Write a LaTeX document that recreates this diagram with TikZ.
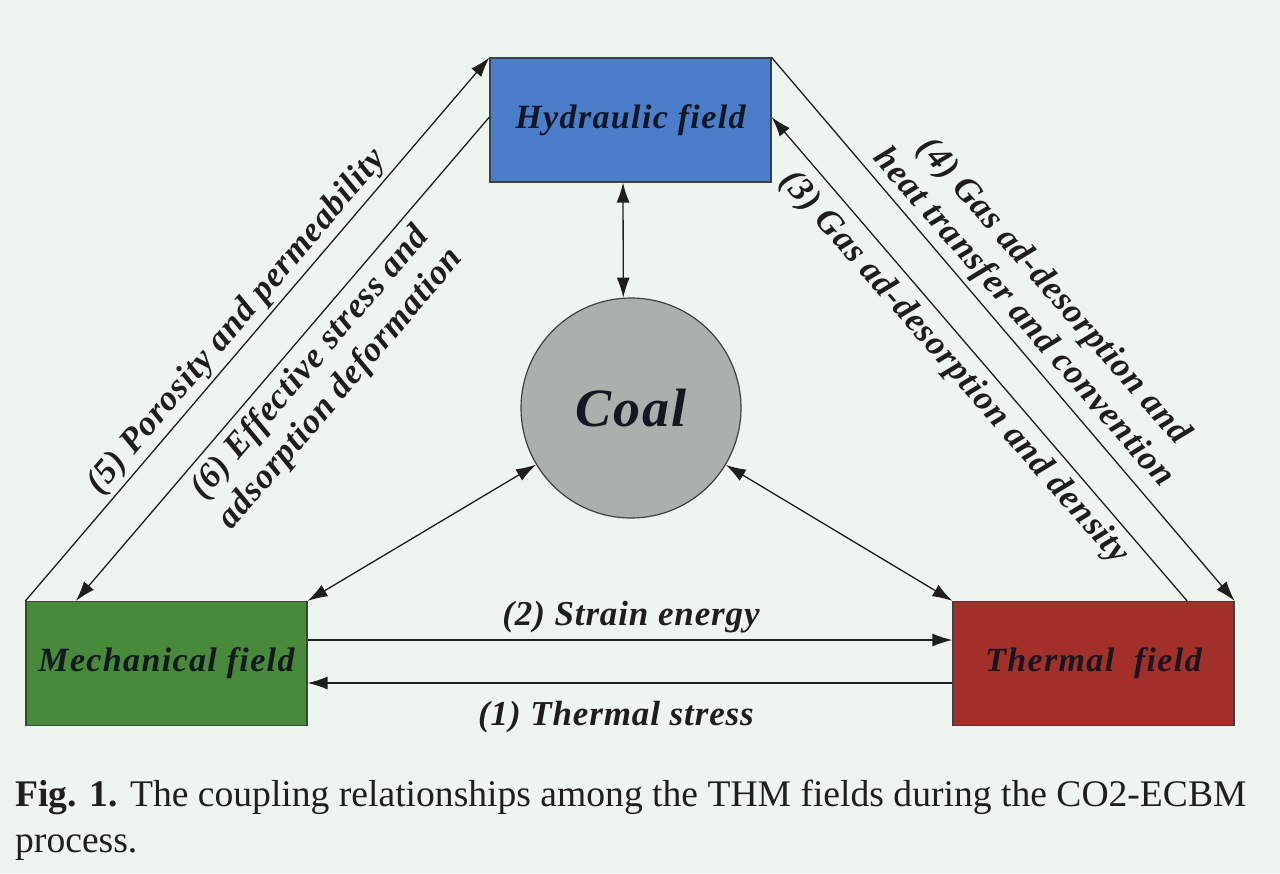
\documentclass[tikz,border=0pt]{standalone}
\usepackage{fontspec}
\setmainfont{Liberation Serif}
\usetikzlibrary{arrows.meta,calc}
\definecolor{bg}{HTML}{EEF5EF}
\definecolor{hblue}{HTML}{4A7DCA}
\definecolor{mgreen}{HTML}{468A3A}
\definecolor{tred}{HTML}{A32F29}
\definecolor{coalgray}{HTML}{AAB0AB}
\definecolor{ink}{HTML}{1E1E1E}
\definecolor{boxtext}{HTML}{151822}
\begin{document}
\begin{tikzpicture}[x=1pt,y=-1pt,
  field/.style={draw=ink!85, line width=1.2pt, minimum width=281pt, minimum height=124pt, inner sep=0pt,
    font=\fontsize{34}{34}\selectfont\bfseries\itshape\addfontfeature{LetterSpace=4}, text=boxtext},
  coalstyle/.style={circle, draw=ink!85, line width=1.2pt, fill=coalgray, minimum size=220pt, inner sep=0pt,
    font=\fontsize{54}{54}\selectfont\bfseries\itshape\addfontfeature{LetterSpace=4}, text=boxtext},
  conn/.style={draw=ink, line width=1.3pt, -{Latex[length=20pt,width=13pt]}},
  dconn/.style={draw=ink, line width=1.3pt, {Latex[length=20pt,width=13pt]}-{Latex[length=20pt,width=13pt]}},
  lbl/.style={font=\fontsize{35}{40}\selectfont\bfseries\itshape\addfontfeature{LetterSpace=2.5}, text=ink, align=center, inner sep=0pt},
  captext/.style={font=\fontsize{37.6}{47}\selectfont, text=black!88, inner sep=0pt, anchor=base west}
]
\path[use as bounding box, fill=bg] (0,0) rectangle (1280,873);

% fields
\node[field, fill=hblue] (hyd) at (630.5,120) {Hydraulic field};
\node[field, fill=mgreen] (mech) at (166.5,663.5) {Mechanical field};
\node[field, fill=tred] (therm) at (1093.5,663.5) {Thermal\ \ field};
\node[coalstyle] (coal) at (631,408) {Coal};

% coal connections
\draw[dconn] ([xshift=-7.5pt]hyd.south) -- (coal.94);
\draw[dconn] (coal) -- (mech.north east);
\draw[dconn] (coal) -- (therm.north west);

% horizontal
\draw[conn] ([yshift=23.5pt]mech.east) -- ([yshift=23.5pt]therm.west);
\draw[conn] ([yshift=-19.5pt]therm.west) -- ([yshift=-19.5pt]mech.east);

% diagonals left
\draw[conn] (mech.north west) -- (hyd.north west);
\draw[conn] ([yshift=3pt]hyd.west) -- ([xshift=50.5pt]mech.north west);
% diagonals right
\draw[conn] (hyd.north east) -- (therm.north east);
\draw[conn] ([xshift=-47.5pt]therm.north east) -- ([yshift=3pt]hyd.east);

% labels
\node[lbl, rotate=49.5] (l5) at (237,322) {(5) Porosity and permeability};
\node[lbl, rotate=49.5] (l6) at (326,376) {(6) Effective stress and\\adsorption deformation};
\node[lbl, rotate=-48.8] (l4) at (1038,305) {(4) Gas ad-desorption and\\heat transfer and convention};
\node[lbl, rotate=-48.8] (l3) at (954,368) {(3) Gas ad-desorption and density};
\node[lbl] (l2) at (631,617) {(2) Strain energy};
\node[lbl] (l1) at (616,717) {(1) Thermal stress};

% caption
\node[captext] (cap1) at (15,806) {\textbf{Fig. 1.} The coupling relationships among the THM fields during the CO2-ECBM};
\node[captext] (cap2) at (15,852) {process.};
\end{tikzpicture}
\end{document}
